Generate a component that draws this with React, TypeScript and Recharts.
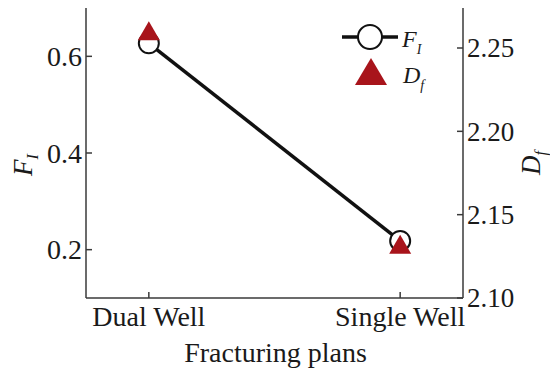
import React from "react";
import { ComposedChart, Line, XAxis, YAxis, Legend } from "recharts";

const plans = ["Dual Well", "Single Well"];
const fiValues = [0.627, 0.218];
const dfValues = [2.26, 2.132];
const leftTicks = [0.2, 0.4, 0.6];
const rightTicks = [2.1, 2.15, 2.2, 2.25];

const data = plans.map((p, i) => ({ x: i, name: p, fi: fiValues[i], df: dfValues[i] }));

const FONT = "'Liberation Serif', 'Times New Roman', serif";
const TXT = "#1a1a1a";
const AX = "#3a3a3a";
const RED = "#a8141b";
const ts = { fontFamily: FONT };

const LeftTick = (props: any) => {
  const { x, y, payload } = props;
  return (
    <g>
      <line x1={x + 4} y1={y} x2={x + 10} y2={y} stroke={AX} strokeWidth={1.5} />
      <text x={x} y={y} dy="0.35em" textAnchor="end" style={ts} fontSize={28} fill={TXT}>
        {Number(payload.value).toFixed(1)}
      </text>
    </g>
  );
};

const RightTick = (props: any) => {
  const { x, y, payload } = props;
  return (
    <g>
      <line x1={x - 4} y1={y} x2={x - 10} y2={y} stroke={AX} strokeWidth={1.5} />
      <text x={x} y={y} dy="0.35em" textAnchor="start" style={ts} fontSize={27} fill={TXT}>
        {Number(payload.value).toFixed(2)}
      </text>
    </g>
  );
};

const BottomTick = (props: any) => {
  const { x, y, payload } = props;
  return (
    <g>
      <line x1={x} y1={y - 6} x2={x} y2={y - 12} stroke={AX} strokeWidth={1.5} />
      <text x={x} y={y + 22} textAnchor="middle" style={ts} fontSize={28} fill={TXT}>
        {plans[payload.value]}
      </text>
    </g>
  );
};

const LeftLabel = (props: any) => {
  const vb = props.viewBox || {};
  const cx = vb.x + 24;
  const cy = vb.y + vb.height / 2 + 12;
  return (
    <text transform={`rotate(-90, ${cx}, ${cy})`} x={cx} y={cy} textAnchor="middle" style={ts} fontSize={27} fill={TXT}>
      <tspan fontStyle="italic">F</tspan>
      <tspan fontStyle="italic" fontSize={16} dy={6}>I</tspan>
    </text>
  );
};

const RightLabel = (props: any) => {
  const vb = props.viewBox || {};
  const cx = vb.x + 77;
  const cy = vb.y + vb.height / 2 + 10;
  return (
    <text transform={`rotate(-90, ${cx}, ${cy})`} x={cx} y={cy} textAnchor="middle" style={ts} fontSize={27} fill={TXT}>
      <tspan fontStyle="italic">D</tspan>
      <tspan fontStyle="italic" fontSize={16} dy={6}>f</tspan>
    </text>
  );
};

const BottomLabel = (props: any) => {
  const vb = props.viewBox || {};
  return (
    <text x={vb.x + vb.width / 2 + 1} y={vb.y + 64} textAnchor="middle" style={ts} fontSize={28} fill={TXT}>
      Fracturing plans
    </text>
  );
};

const Dot = (props: any) => {
  const { cx, cy } = props;
  if (cx == null || cy == null) return null;
  return <circle cx={cx} cy={cy} r={10} fill="#fff" stroke="#111" strokeWidth={2} />;
};

const Tri = (props: any) => {
  const { cx, cy } = props;
  if (cx == null || cy == null) return null;
  return <polygon points={`${cx},${cy - 10} ${cx + 11},${cy + 9} ${cx - 11},${cy + 9}`} fill={RED} />;
};

const LegendContent = () => (
  <svg width={120} height={90} style={{ overflow: "visible" }}>
    <line x1={12} y1={22} x2={68} y2={22} stroke="#111" strokeWidth={3.5} />
    <circle cx={40} cy={22} r={12} fill="#fff" stroke="#111" strokeWidth={2} />
    <text x={72} y={32} style={ts} fontSize={24} fill={TXT}>
      <tspan fontStyle="italic">F</tspan>
      <tspan fontStyle="italic" fontSize={14} dy={7}>I</tspan>
    </text>
    <polygon points="41,43 57,70 25,70" fill={RED} />
    <text x={73} y={68} style={ts} fontSize={24} fill={TXT}>
      <tspan fontStyle="italic">D</tspan>
      <tspan fontStyle="italic" fontSize={14} dy={7}>f</tspan>
    </text>
  </svg>
);

export default function App() {
  return (
    <div style={{ position: "absolute", left: 0, top: 0, width: 550, height: 373, background: "#fff" }}>
      <ComposedChart width={550} height={373} data={data} margin={{ top: 8, right: 0, bottom: 0, left: 8 }}>
        <XAxis
          xAxisId="bottom"
          type="number"
          dataKey="x"
          domain={[-0.25, 1.25]}
          ticks={[0, 1]}
          height={75}
          tickSize={0}
          tickMargin={6}
          tick={<BottomTick />}
          axisLine={{ stroke: AX, strokeWidth: 1.5 }}
          tickLine={false}
          interval={0}
          label={<BottomLabel />}
        />
        <XAxis
          xAxisId="top"
          orientation="top"
          type="number"
          dataKey="x"
          domain={[-0.25, 1.25]}
          height={0}
          tick={false}
          tickLine={false}
          axisLine={{ stroke: AX, strokeWidth: 1.5 }}
        />
        <YAxis
          yAxisId="left"
          orientation="left"
          type="number"
          domain={[0.1, 0.7]}
          ticks={leftTicks}
          width={78}
          tickSize={0}
          tickMargin={4}
          tick={<LeftTick />}
          tickLine={false}
          axisLine={{ stroke: AX, strokeWidth: 1.5 }}
          interval={0}
          label={<LeftLabel />}
        />
        <YAxis
          yAxisId="right"
          orientation="right"
          type="number"
          domain={[2.1, 2.274]}
          ticks={rightTicks}
          width={87}
          tickSize={0}
          tickMargin={4}
          tick={<RightTick />}
          tickLine={false}
          axisLine={{ stroke: AX, strokeWidth: 1.5 }}
          interval={0}
          label={<RightLabel />}
        />
        <Legend
          layout="horizontal"
          align="center"
          verticalAlign="middle"
          content={<LegendContent />}
          wrapperStyle={{ position: "absolute", left: 330, top: 15, width: 120, height: 90 }}
        />
        <Line
          xAxisId="bottom"
          yAxisId="left"
          dataKey="fi"
          name="F_I"
          stroke="#111"
          strokeWidth={3.5}
          dot={<Dot />}
          activeDot={false}
          isAnimationActive={false}
        />
        <Line
          xAxisId="bottom"
          yAxisId="right"
          dataKey="df"
          name="D_f"
          stroke="none"
          dot={<Tri />}
          activeDot={false}
          isAnimationActive={false}
        />
      </ComposedChart>
    </div>
  );
}
